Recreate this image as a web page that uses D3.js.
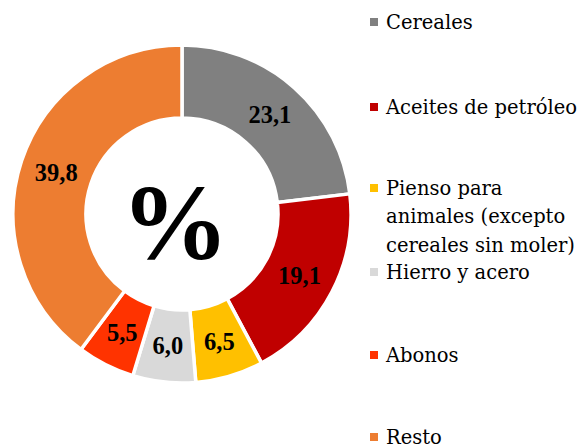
<!DOCTYPE html>
<html><head><meta charset="utf-8">
<script src="https://cdn.jsdelivr.net/npm/d3@7"></script>
<style>body{margin:0;background:#fff}svg{display:block}</style>
</head><body>
<svg id="c" width="583" height="448"></svg>
<script>
const categories = ["Cereales","Aceites de petróleo","Pienso para animales (excepto cereales sin moler)","Hierro y acero","Abonos","Resto"];
const values = [23.1,19.1,6.5,6.0,5.5,39.8];
const valueLabels = ["23,1","19,1","6,5","6,0","5,5","39,8"];
const legendLines = [["Cereales"],["Aceites de petróleo"],["Pienso para","animales (excepto","cereales sin moler)"],["Hierro y acero"],["Abonos"],["Resto"]];
const colors = ["#808080","#C00000","#FFC000","#D9D9D9","#FF3300","#ED7D31"];

const svg = d3.select("#c");
const cx = 182, cy = 214, rOut = 169, rIn = 96;
const font = "'Liberation Serif', 'DejaVu Serif', serif";
const legFont = "'DejaVu Serif', serif";
const pie = d3.pie().sort(null).value(d => d)(values);
const arc = d3.arc().innerRadius(rIn).outerRadius(rOut);
const g = svg.append("g").attr("transform", `translate(${cx},${cy})`);
g.selectAll("path").data(pie).join("path")
  .attr("d", arc).attr("fill", (d,i) => colors[i])
  .attr("stroke", "#fff").attr("stroke-width", 3.5).attr("stroke-linejoin","miter");
g.selectAll("text.v").data(pie).join("text").attr("class","v")
  .attr("transform", d => `translate(${arc.centroid(d)})`)
  .attr("text-anchor","middle").attr("dy","0.35em")
  .style("font-family", font).style("font-weight","bold").style("font-size","24.5px")
  .text((d,i) => valueLabels[i]);
g.append("text").attr("text-anchor","middle").attr("x", -7).attr("y", 45)
  .style("font-family", font).style("font-weight","bold").style("font-size","108px")
  .text("%");

const legY = [22,107,188,272,355,437];
const lg = svg.append("g");
categories.forEach((c,i) => {
  lg.append("rect").attr("x",370).attr("y",legY[i]-4).attr("width",8).attr("height",8).attr("fill",colors[i]);
  legendLines[i].forEach((ln,j) => {
    lg.append("text").attr("x",386).attr("y",legY[i]+j*28.5).attr("dy","0.35em")
      .style("font-family", legFont).style("font-size","19.5px").attr("fill","#000").text(ln);
  });
});
</script>
</body></html>
